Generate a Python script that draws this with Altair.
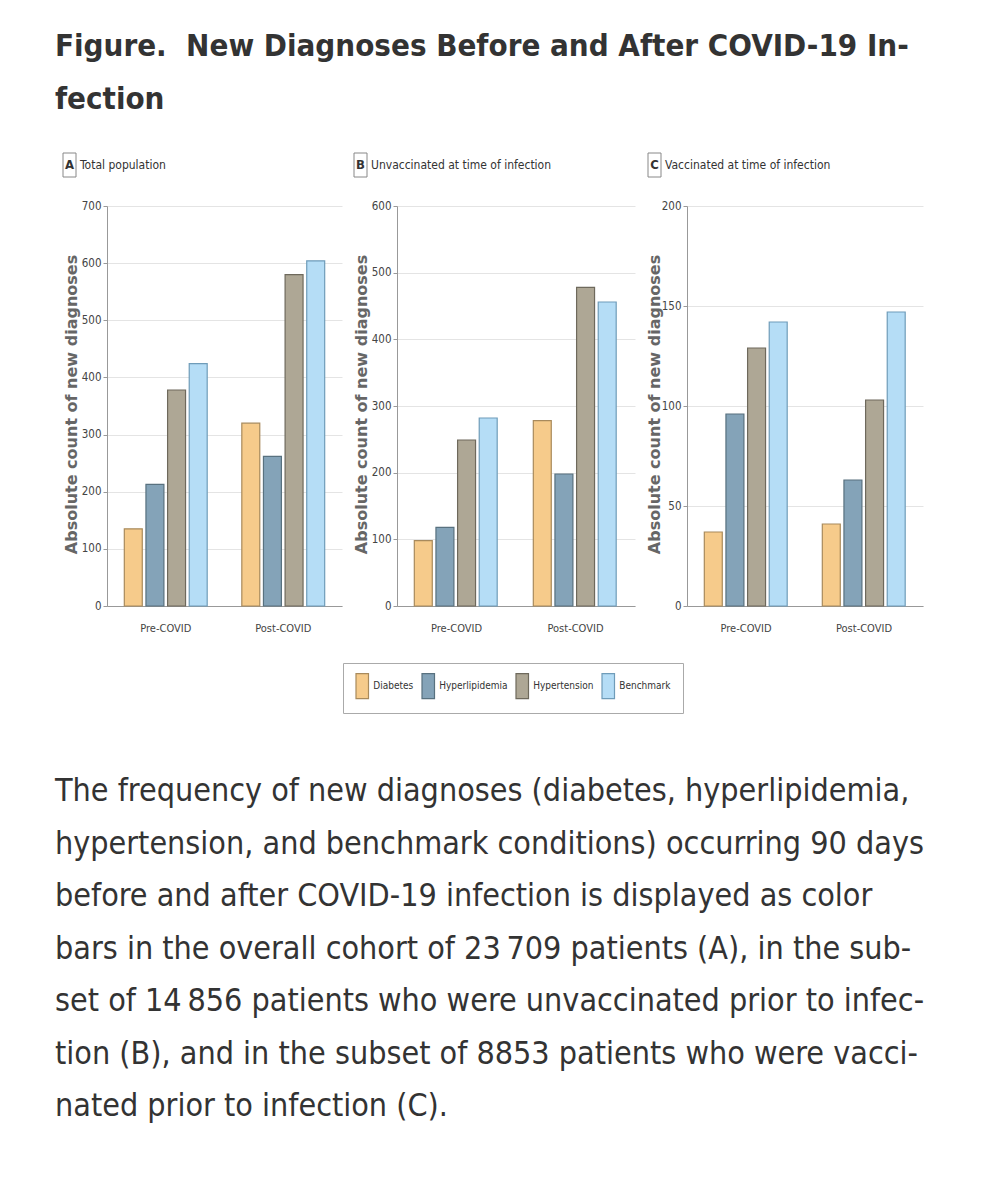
import altair as alt
import pandas as pd

NARROW = "DejaVu Sans Condensed, Lato"

groups = ["Pre-COVID", "Post-COVID"]
conditions = ["Diabetes", "Hyperlipidemia", "Hypertension", "Benchmark"]
fill_colors = ["#F6CB8B", "#84A3B8", "#AEA795", "#B5DDF6"]
stroke_colors = ["#A88A5C", "#58717F", "#6E695C", "#6F9CB9"]

panel_letters = ["A", "B", "C"]
panel_titles = ["Total population", "Unvaccinated at time of infection", "Vaccinated at time of infection"]
y_max = [700, 600, 200]
y_ticks = [[0, 100, 200, 300, 400, 500, 600, 700],
           [0, 100, 200, 300, 400, 500, 600],
           [0, 50, 100, 150, 200]]

total_pre = [135, 213, 378, 424]
total_post = [320, 262, 580, 604]
unvax_pre = [98, 118, 249, 282]
unvax_post = [278, 198, 478, 456]
vax_pre = [37, 96, 129, 142]
vax_post = [41, 63, 103, 147]

y_title = "Absolute count of new diagnoses"
title_lines = ["Figure.\u00a0 New Diagnoses Before and After COVID-19 In-", "fection"]
caption_lines = [
    "The frequency of new diagnoses (diabetes, hyperlipidemia,",
    "hypertension, and benchmark conditions) occurring 90 days",
    "before and after COVID-19 infection is displayed as color",
    "bars in the overall cohort of 23\u2009709 patients (A), in the sub-",
    "set of 14\u2009856 patients who were unvaccinated prior to infec-",
    "tion (B), and in the subset of 8853 patients who were vacci-",
    "nated prior to infection (C).",
]

legend_spec = alt.Legend(
    title=None, orient="none", legendX=236, legendY=457, direction="horizontal",
    symbolType="M-0.625,-1.25H0.625V1.25H-0.625Z", symbolSize=400, symbolStrokeWidth=1.2,
    symbolOffset=-3.75, labelOffset=0,
    labelFont=NARROW, labelFontSize=10, labelColor="#333",
    columnPadding=5, padding=12, strokeColor="#aaaaaa", fillColor="white",
)


def panel(letter, title, pre, post, ymax, ticks, box_x, title_x, width):
    df = pd.DataFrame({
        "period": [g for g in groups for _ in conditions],
        "condition": conditions * 2,
        "count": pre + post,
    })
    bars = alt.Chart(df).mark_bar(strokeWidth=1.2).encode(
        x=alt.X("period:N", sort=groups,
                scale=alt.Scale(paddingInner=0, paddingOuter=0),
                axis=alt.Axis(title=None, labelAngle=0, ticks=False, labelPadding=16,
                              labelFont=NARROW, labelFontSize=11, labelColor="#444",
                              domainColor="#999")),
        xOffset=alt.XOffset("condition:N", sort=conditions,
                            scale=alt.Scale(paddingInner=0.17, paddingOuter=0.8)),
        y=alt.Y("count:Q", scale=alt.Scale(domain=[0, ymax], nice=False),
                axis=alt.Axis(values=ticks, title=y_title, tickSize=4, labelPadding=2,
                              labelFont=NARROW, labelFontSize=11.5, labelColor="#444",
                              titleFont="DejaVu Sans", titleFontSize=16, titleFontWeight="bold",
                              titleColor="#666", titleX=title_x, titleY=198, titleAnchor="middle",
                              titleBaseline="middle",
                              domainColor="#999", tickColor="#999", gridColor="#e4e4e4")),
        fill=alt.Fill("condition:N", sort=conditions,
                      scale=alt.Scale(domain=conditions, range=fill_colors), legend=legend_spec),
        stroke=alt.Stroke("condition:N", sort=conditions,
                          scale=alt.Scale(domain=conditions, range=stroke_colors), legend=legend_spec),
    )
    lab = alt.Chart(pd.DataFrame({"letter": [letter], "title": [title]}))
    box = lab.mark_rect(fill="white", stroke="#888", strokeWidth=1).encode(
        x=alt.value(box_x), x2=alt.value(box_x + 13), y=alt.value(-53), y2=alt.value(-29))
    let = lab.mark_text(font=NARROW, fontSize=13, fontWeight="bold", color="#333",
                        align="center", baseline="middle").encode(
        x=alt.value(box_x + 6.5), y=alt.value(-41), text="letter:N")
    tt = lab.mark_text(font=NARROW, fontSize=12, color="#333",
                       align="left", baseline="middle").encode(
        x=alt.value(box_x + 17), y=alt.value(-41), text="title:N")
    return alt.layer(bars, box, let, tt).properties(width=width, height=400)


pa = panel(panel_letters[0], panel_titles[0], total_pre, total_post, y_max[0], y_ticks[0], -44, -36, 235)
pb = panel(panel_letters[1], panel_titles[1], unvax_pre, unvax_post, y_max[1], y_ticks[1], -43, -36, 238)
pc = panel(panel_letters[2], panel_titles[2], vax_pre, vax_post, y_max[2], y_ticks[2], -39, -33, 236)

panels = alt.hconcat(pa, pb, pc, spacing=11).resolve_scale(y="independent", x="independent")

cap_df = pd.DataFrame({"i": list(range(len(caption_lines))), "line": caption_lines})
caption = alt.Chart(cap_df).mark_text(align="left", baseline="middle", font=NARROW,
                                      fontSize=32, color="#333").encode(
    x=alt.value(-52),
    y=alt.Y("i:O", axis=None, scale=alt.Scale(type="point", padding=0)),
    text="line:N",
).properties(width=820, height=315)

chart = alt.vconcat(panels, caption, spacing=142).properties(
    title=alt.TitleParams(text=title_lines, anchor="start", font=NARROW, fontSize=31,
                          fontWeight="bold", color="#333", lineHeight=53, offset=37),
    padding={"left": 47, "top": 22, "right": 5, "bottom": 5},
).configure_view(stroke=None).configure_concat(spacing=11)

chart.save("out.html", embed_options={"renderer": "svg", "actions": False})
